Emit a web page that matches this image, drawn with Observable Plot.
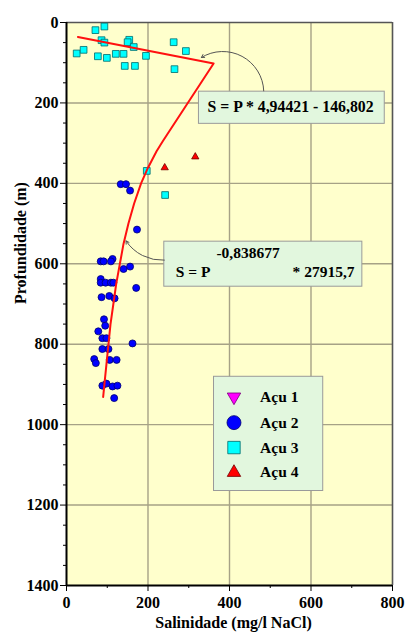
<!DOCTYPE html>
<html><head><meta charset="utf-8">
<script src="https://cdn.jsdelivr.net/npm/d3@7"></script>
<script src="https://cdn.jsdelivr.net/npm/@observablehq/plot@0.6"></script>
<style>body{margin:0;background:#fff}</style>
</head><body><div id="chart"></div>
<script>
// ---- data ----
const xTicks = [0, 200, 400, 600, 800];
const xMinor = [100, 300, 500, 700];
const yTicks = [0, 200, 400, 600, 800, 1000, 1200, 1400];
const xGrid = [200, 400, 600];
const yGrid = [200, 400, 600, 800, 1000, 1200];

const acu1Salinity = [];
const acu1Depth = [];
const acu2Salinity = [133,146,156,173,84,91,113,109,140,156,84,84,96,109,115,171,86,105,118,92,95,78,88,98,162,88,103,68,72,106,123,88,98,113,125,117];
const acu2Depth    = [402,402,418,515,594,594,588,594,613,607,638,647,647,647,647,660,683,680,686,738,754,768,785,785,798,812,812,837,847,839,839,903,898,905,903,934];
const acu3Salinity = [25,42,71,93,86,93,77,99,121,140,154,150,165,143,168,195,263,293,265,197,242];
const acu3Depth    = [77,68,19,10,44,50,84,88,78,78,43,49,61,108,108,83,49,71,116,369,429];
const acu4Salinity = [241,316];
const acu4Depth    = [361,334];

// fitted curve as drawn (linear part, then power law)
const fitSalinity = [28,361,237,221,200,183,166,152,140,131,122,115,108,103,98,93,90];
const fitDepth    = [36,102,294,320,361,400,450,500,550,600,650,700,750,800,850,900,931];

const legendLabels = ["Açu 1", "Açu 2", "Açu 3", "Açu 4"];
const legendDepth = [931, 995, 1057, 1119];

const eq1Text = "S = P * 4,94421 - 146,802";
const eq2Exp = "-0,838677";
const eq2Left = "S = P";
const eq2Right = "* 27915,7";

// ---- build ----
const zip = (xs, ys) => xs.map((x, i) => ({s: x, p: ys[i]}));
const acu1 = zip(acu1Salinity, acu1Depth);
const acu2 = zip(acu2Salinity, acu2Depth);
const acu3 = zip(acu3Salinity, acu3Depth);
const acu4 = zip(acu4Salinity, acu4Depth);
const fit = zip(fitSalinity, fitDepth);

const FONT = "'Liberation Serif','Times New Roman',Times,serif";
const boxFill = "#e2f7de", boxStroke = "#9a9a9a";
const gridColor = "#a6a286";

const styles = [
  {symbol: "triangle", rotate: 180, fill: "#ff00ff", stroke: "#7a007a", r: 2.6, lr: 5},
  {symbol: "circle", rotate: 0, fill: "#0000ff", stroke: "#00006e", r: 3.5, lr: 7},
  {symbol: "square", rotate: 0, fill: "#00ffff", stroke: "#006b6b", r: 3.8, lr: 7},
  {symbol: "triangle", rotate: 0, fill: "#ff0000", stroke: "#6e0000", r: 2.7, lr: 5}
];
const series = [acu1, acu2, acu3, acu4];

const legendItems = legendLabels.map((t, i) => ({t, p: legendDepth[i]}));

const chart = Plot.plot({
  width: 405,
  height: 635,
  marginLeft: 66,
  marginRight: 13,
  marginTop: 22,
  marginBottom: 50,
  style: {fontFamily: FONT, fontWeight: "bold", fontSize: "16px", color: "#000", background: "#fff"},
  x: {domain: [0, 800]},
  y: {domain: [0, 1400], reverse: true},
  marks: [
    Plot.frame({fill: "#ffffcc", stroke: null}),
    Plot.ruleX(xGrid, {stroke: gridColor, strokeWidth: 1.4}),
    Plot.ruleY(yGrid, {stroke: gridColor, strokeWidth: 1.4}),
    Plot.ruleY([0], {stroke: "#555", strokeWidth: 1.6}),
    Plot.ruleX([800], {stroke: "#555", strokeWidth: 1.6}),
    // annotation boxes and legend box
    Plot.rect([{x1: 325, x2: 781, y1: 172, y2: 252}], {x1: "x1", x2: "x2", y1: "y1", y2: "y2", fill: boxFill, stroke: boxStroke}),
    Plot.rect([{x1: 240, x2: 726, y1: 545, y2: 657}], {x1: "x1", x2: "x2", y1: "y1", y2: "y2", fill: boxFill, stroke: boxStroke}),
    Plot.rect([{x1: 362, x2: 630, y1: 881, y2: 1165}], {x1: "x1", x2: "x2", y1: "y1", y2: "y2", fill: boxFill, stroke: boxStroke}),
    Plot.arrow([{x1: 484, y1: 170, x2: 331, y2: 87}], {x1: "x1", y1: "y1", x2: "x2", y2: "y2", bend: -60, stroke: "#555", strokeWidth: 1, headLength: 5}),
    Plot.arrow([{x1: 240, y1: 591, x2: 146, y2: 543}], {x1: "x1", y1: "y1", x2: "x2", y2: "y2", bend: 30, stroke: "#555", strokeWidth: 1, headLength: 5}),
    // data
    ...series.map((d, i) => Plot.dot(d, {x: "s", y: "p", symbol: styles[i].symbol, rotate: styles[i].rotate, fill: styles[i].fill, stroke: styles[i].stroke, strokeWidth: 0.8, r: styles[i].r})),
    Plot.line(fit, {x: "s", y: "p", stroke: "#ff1010", strokeWidth: 2, curve: "linear"}),
    // equations
    Plot.text([eq1Text], {x: 346, y: 211, text: d => d, textAnchor: "start", fontSize: 15.8, fontWeight: "bold"}),
    Plot.text([eq2Exp], {x: 368, y: 573, text: d => d, textAnchor: "start", fontSize: 15.5, fontWeight: "bold"}),
    Plot.text([eq2Left], {x: 268, y: 620, text: d => d, textAnchor: "start", fontSize: 15.5, fontWeight: "bold"}),
    Plot.text([eq2Right], {x: 707, y: 620, text: d => d, textAnchor: "end", fontSize: 15.5, fontWeight: "bold"}),
    // legend
    ...legendItems.map((d, i) => Plot.dot([d], {x: 411, y: "p", symbol: styles[i].symbol, rotate: styles[i].rotate, fill: styles[i].fill, stroke: styles[i].stroke, strokeWidth: 0.8, r: styles[i].lr})),
    Plot.text(legendItems, {x: 475, y: "p", text: "t", textAnchor: "start", fontSize: 15.5, fontWeight: "bold"}),
    // axes
    Plot.axisX(xTicks, {tickSize: 6, tickPadding: 5, fontSize: 16, fontWeight: "bold", tickFormat: d => String(d), label: null}),
    Plot.axisX(xMinor, {tickSize: 3, tickFormat: () => "", label: null}),
    Plot.axisY(yTicks, {tickSize: 6, tickPadding: 2, fontSize: 16, fontWeight: "bold", tickFormat: d => String(d), label: null}),
    Plot.axisY(d3.range(50, 1400, 50).filter(v => v % 200 !== 0), {tickSize: 3, tickFormat: () => "", label: null}),
    Plot.ruleX([0], {stroke: "#000", strokeWidth: 2}),
    Plot.ruleY([1400], {stroke: "#000", strokeWidth: 2}),
    Plot.text(["Salinidade (mg/l NaCl)"], {frameAnchor: "bottom", dx: 4, dy: 42, text: d => d, fontSize: 16, fontWeight: "bold"}),
    Plot.text(["Profundidade (m)"], {frameAnchor: "left", rotate: -90, dx: -46, text: d => d, fontSize: 16, fontWeight: "bold"})
  ]
});
document.getElementById("chart").appendChild(chart);
</script>
</body></html>
